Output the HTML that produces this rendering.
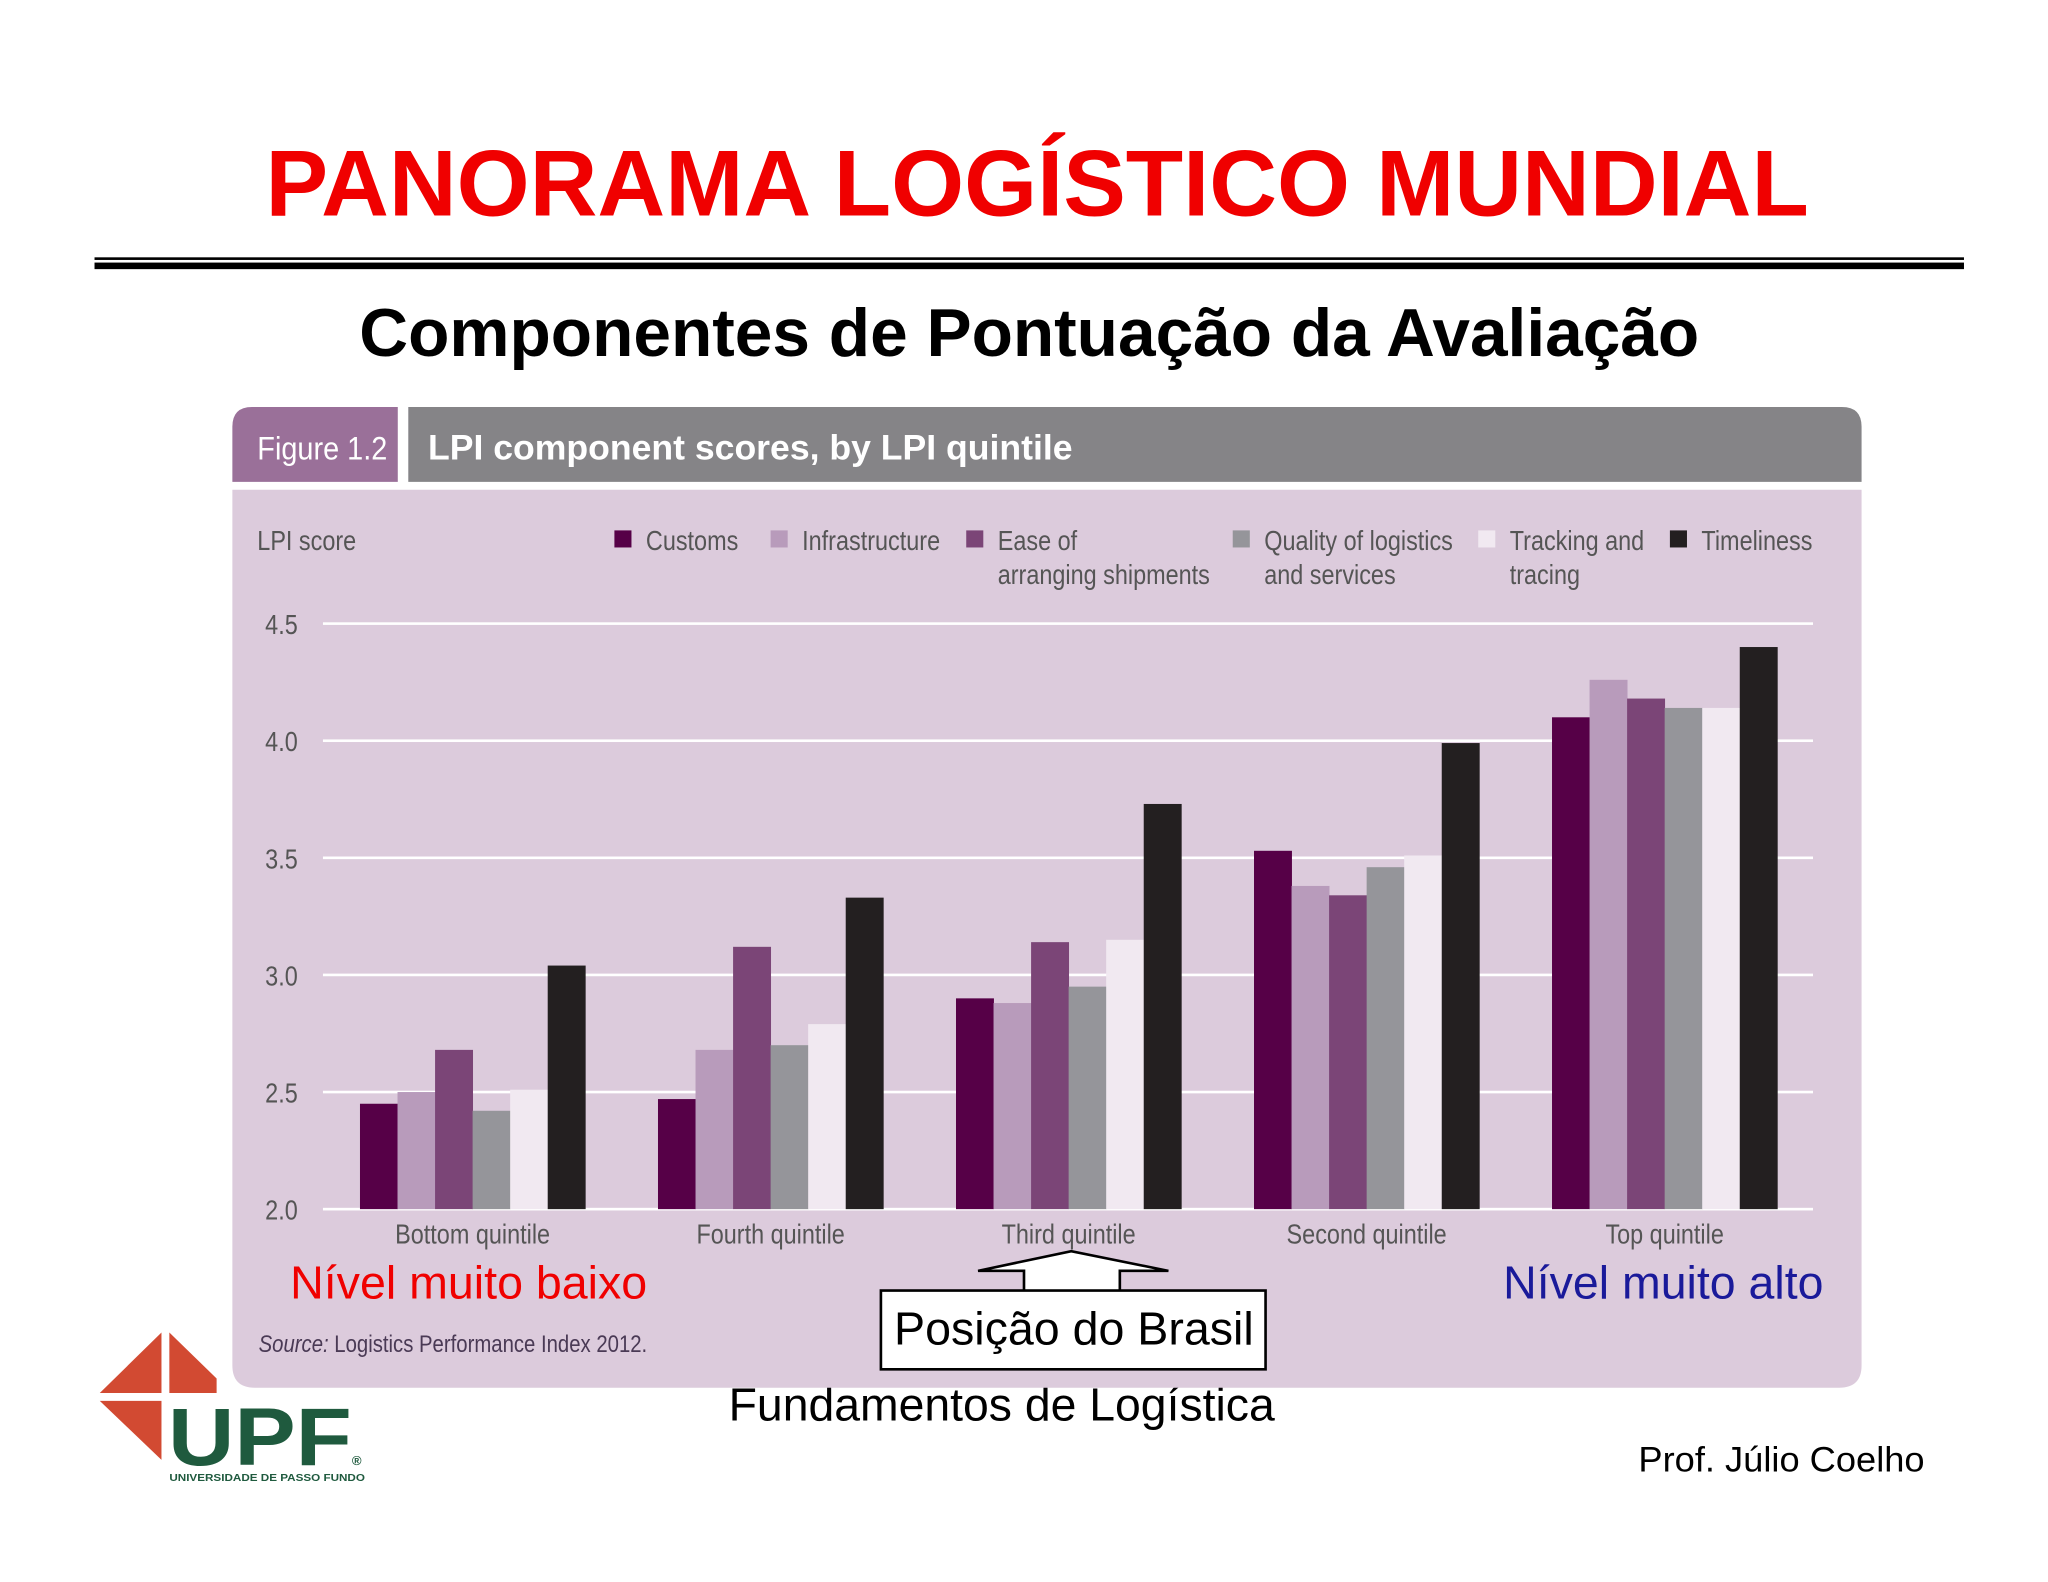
<!DOCTYPE html>
<html><head><meta charset="utf-8"><style>
html,body{margin:0;padding:0;background:#fff;}
svg{display:block;}
.n{font-family:"Liberation Sans Narrow","Liberation Sans",sans-serif;}
</style></head><body>
<svg id="c" width="2048" height="1582" viewBox="0 0 1560 1205" preserveAspectRatio="none" xmlns="http://www.w3.org/2000/svg" font-family="Liberation Sans, sans-serif">
<rect width="1560" height="1205" fill="#fff"/>
<text x="790" y="164" text-anchor="middle" font-size="71.5" font-weight="bold" fill="#f00000">PANORAMA LOGÍSTICO MUNDIAL</text>
<rect x="72" y="196" width="1424" height="2" fill="#000"/>
<rect x="72" y="200" width="1424" height="5" fill="#000"/>
<text x="784" y="271" text-anchor="middle" font-size="51.5" font-weight="bold" fill="#000">Componentes de Pontuação da Avaliação</text>
<text x="763" y="1082" text-anchor="middle" font-size="35" fill="#000" textLength="416" lengthAdjust="spacingAndGlyphs">Fundamentos de Logística</text>
<g>
<path d="M177,373 H1418 V1040 Q1418,1057 1401,1057 H194 Q177,1057 177,1040 Z" fill="#dccbdc"/>
<path d="M177,367 V325 Q177,310 192,310 H303 V367 Z" fill="#9a7099"/>
<path d="M311,310 H1403 Q1418,310 1418,325 V367 H311 Z" fill="#858487"/>
</g>
<text x="196" y="350" font-size="25" fill="#fff" textLength="99" lengthAdjust="spacingAndGlyphs">Figure 1.2</text>
<text x="326" y="350" font-size="27" font-weight="bold" fill="#fff" textLength="491" lengthAdjust="spacingAndGlyphs">LPI component scores, by LPI quintile</text>
<text class="n" x="196" y="419" font-size="21" fill="#555">LPI score</text>
<g id="legend" class="n" font-size="21" fill="#555"></g>
<g id="grid"></g>
<g id="yt" class="n" font-size="21" fill="#555"></g>
<g id="bars"></g>
<g id="xt" class="n" font-size="21" fill="#555"></g>
<text x="357" y="989" text-anchor="middle" font-size="35" fill="#f00000" textLength="272" lengthAdjust="spacingAndGlyphs">Nível muito baixo</text>
<text x="1267" y="989" text-anchor="middle" font-size="35" fill="#1a1a9a" textLength="244" lengthAdjust="spacingAndGlyphs">Nível muito alto</text>
<path d="M780,983 V968 H745 L816,953 L890,968 H853 V983" fill="#fff" stroke="#000" stroke-width="2"/>
<rect x="671" y="983" width="293" height="60" fill="#fff" stroke="#000" stroke-width="2"/>
<text x="818" y="1024" text-anchor="middle" font-size="35" fill="#000" textLength="274" lengthAdjust="spacingAndGlyphs">Posição do Brasil</text>
<text x="197" y="1030" font-size="18" fill="#4a3a55" textLength="296" lengthAdjust="spacingAndGlyphs"><tspan font-style="italic">Source:</tspan> Logistics Performance Index 2012.</text>
<g>
<polygon points="76,1061 123,1015 123,1061" fill="#d24a32"/>
<polygon points="129,1015 165,1050 165,1061 129,1061" fill="#d24a32"/>
<polygon points="76,1067 123,1067 123,1112" fill="#d24a32"/>
<text x="128" y="1116" font-size="62" font-weight="bold" fill="#1f5a3e" textLength="140" lengthAdjust="spacingAndGlyphs">UPF</text>
<text x="268" y="1116" font-size="10" font-weight="bold" fill="#1f5a3e">®</text>
<text x="129" y="1128" font-size="8" font-weight="bold" fill="#1f5a3e" textLength="149" lengthAdjust="spacingAndGlyphs">UNIVERSIDADE DE PASSO FUNDO</text>
</g>
<text x="1466" y="1121" text-anchor="end" font-size="27" fill="#000" textLength="218" lengthAdjust="spacingAndGlyphs">Prof. Júlio Coelho</text>
</svg>
<script>
const categories=["Bottom quintile","Fourth quintile","Third quintile","Second quintile","Top quintile"];
const seriesNames=[["Customs"],["Infrastructure"],["Ease of","arranging shipments"],["Quality of logistics","and services"],["Tracking and","tracing"],["Timeliness"]];
const customs=[2.45,2.47,2.90,3.53,4.10];
const infrastructure=[2.50,2.68,2.88,3.38,4.26];
const ease=[2.68,3.12,3.14,3.34,4.18];
const quality=[2.42,2.70,2.95,3.46,4.14];
const tracking=[2.51,2.79,3.15,3.51,4.14];
const timeliness=[3.04,3.33,3.73,3.99,4.40];
const yTicks=[2.0,2.5,3.0,3.5,4.0,4.5];
const series=[customs,infrastructure,ease,quality,tracking,timeliness];
const colors=["#560047","#b89bbb","#7b4577","#95959a","#f1e9f1","#231f20"];
const ns="http://www.w3.org/2000/svg";
const y=v=>921-(v-2)*178.4;
const xc=i=>360+i*227;
const bw=28.6;
function mk(t,a,p){const e=document.createElementNS(ns,t);for(const k in a)e.setAttribute(k,a[k]);p.appendChild(e);return e;}
const grid=document.getElementById('grid'),yt=document.getElementById('yt'),bars=document.getElementById('bars'),xt=document.getElementById('xt'),lg=document.getElementById('legend');
yTicks.forEach(t=>{
 const l=mk('rect',{x:246,y:y(t)-1,width:1135,height:2,fill:'#fff'},grid);
 
 
 const tx=mk('text',{x:202,y:y(t)+8},yt);tx.textContent=t.toFixed(1);
 
 
});
series.forEach((s,si)=>{
 s.forEach((v,ci)=>{
  const x0=xc(ci)-3*bw+si*bw;
  const r=mk('rect',{x:x0,y:y(v),width:bw+0.3,height:y(2)-y(v),fill:colors[si]},bars);
  
  
 });
});
categories.forEach((c,i)=>{
 const t=mk('text',{x:xc(i),y:947,'text-anchor':'middle'},xt);t.textContent=c;
 
 
});
const lx=[468,587,736,939,1126,1272];
seriesNames.forEach((n,i)=>{
 const g=mk('g',{},lg);
 
 
 mk('rect',{x:lx[i],y:404,width:13,height:13,fill:colors[i]},g);
 n.forEach((line,j)=>{const t=mk('text',{x:lx[i]+24,y:419+j*26},g);t.textContent=line;});
});
document.querySelectorAll('.n text, text.n').forEach(t=>{
 const w=t.getComputedTextLength();
 if(w>0){t.setAttribute('textLength',(w*0.85).toFixed(1));t.setAttribute('lengthAdjust','spacingAndGlyphs');}
});
</script>
</body></html>
